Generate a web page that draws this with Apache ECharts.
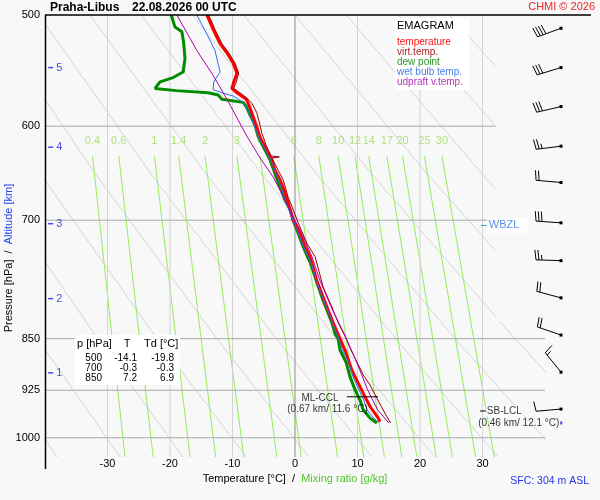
<!DOCTYPE html>
<html>
<head>
<meta charset="utf-8">
<script src="https://cdn.jsdelivr.net/npm/echarts@6/dist/echarts.min.js"></script>
<style>
html, body { margin: 0; padding: 0; background: #f8f8f8; }
#main { width: 600px; height: 500px; }
</style>
</head>
<body>
<div id="main"></div>
<script>
var FONT = 'Liberation Sans, Arial, sans-serif';

// axes
var pTop = 500, pBottom = 1032;
var pressureTicks = [500, 600, 700, 850, 925, 1000];
var pressureLines = [600, 700, 850, 925, 1000];
var isotherms = [-30, -20, -10, 10, 20, 30];
var kmLevels = [1, 2, 3, 4, 5];
var kmPressure = [899, 796, 704, 621, 545];

// mixing ratio lines (g/kg), temperature at 630 hPa and at the bottom
var mixRatios = [0.4, 0.6, 1, 1.4, 2, 3, 4, 6, 8, 10, 12, 14, 17, 20, 25, 30];
var mixTop = [-32.4, -28.2, -22.5, -18.6, -14.4, -9.3, -5.6, -0.2, 3.8, 6.9, 9.6, 11.8, 14.7, 17.2, 20.7, 23.5];
var mixBottom = [-27.2, -22.7, -16.8, -12.7, -8.2, -2.9, 1.0, 6.8, 11.0, 14.3, 17.1, 19.5, 22.6, 25.2, 28.9, 31.9];

// dry adiabats, temperature at these levels
var adiabatLevels = [500, 650, 850, 1032];
var adiabats = [
	[-82.0, -67.1, -50.7, -38.1],
	[-73.8, -58.3, -41.2, -28.0],
	[-65.6, -49.4, -31.6, -17.9],
	[-57.4, -40.6, -22.1, -7.8],
	[-49.2, -31.8, -12.5, 2.2],
	[-41.0, -22.9, -3.0, 12.3],
	[-32.8, -14.1, 6.6, 22.4],
	[-24.6, -5.2, 16.1, 32.5],
	[-16.4, 3.6, 25.6, 42.6],
	[-8.2, 12.4, 35.2, 52.7],
	[0.0, 21.3, 44.7, 62.8],
	[8.2, 30.1, 54.3, 72.9],
	[16.5, 39.0, 63.8, 83.0],
	[24.7, 47.8, 73.4, 93.1]
];

// sounding [p, T]
var temperature = [[500,-14.1],[512,-13.1],[524,-12.0],[532,-10.9],[541,-9.9],[550,-9.3],[558,-9.8],[564,-10.1],[568,-9.3],[574,-7.8],[582,-7.2],[599,-6.2],[611,-5.6],[627,-4.3],[634,-3.7],[645,-3.2],[655,-2.4],[669,-1.6],[680,-1.1],[700,-0.3],[715,0.8],[731,1.6],[743,2.4],[751,2.7],[773,3.5],[794,4.5],[811,5.3],[828,6.1],[850,7.2],[866,8.0],[895,9.1],[914,10.1],[935,11.2],[950,12.0],[968,13.3],[974,13.6]];
var dewPoint = [[500,-19.8],[510,-19.2],[514,-18.1],[524,-17.8],[537,-17.6],[549,-17.9],[554,-19.5],[558,-21.6],[564,-22.4],[566,-19.0],[568,-13.9],[570,-12.3],[574,-11.7],[577,-8.3],[581,-7.8],[589,-7.2],[599,-6.4],[610,-5.9],[624,-4.8],[634,-4.0],[652,-3.0],[663,-2.4],[677,-1.6],[688,-0.8],[700,-0.3],[715,0.5],[731,1.3],[745,2.1],[751,2.5],[773,3.4],[794,4.3],[811,5.1],[828,5.9],[843,6.4],[850,6.9],[866,7.2],[884,8.2],[905,8.8],[924,9.6],[940,10.4],[955,10.9],[968,12.0],[976,13.1]];
var wetBulb = [[500,-15.7],[508,-14.9],[518,-13.9],[530,-12.8],[544,-12.2],[549,-12.0],[558,-13.0],[565,-13.1],[568,-11.7],[571,-9.9],[575,-8.8],[579,-8.0],[589,-7.2],[600,-6.5],[611,-5.8],[634,-3.9],[655,-2.6],[677,-1.6],[700,-0.3],[731,1.4],[751,2.6],[773,3.4],[794,4.4],[828,6.0],[850,7.0],[866,7.6],[884,8.6],[905,9.3],[924,10.2],[940,11.0],[955,11.5],[968,12.6],[975,13.3]];
var virtTemp = [[500,-13.8],[512,-12.8],[524,-11.7],[532,-10.6],[541,-9.6],[550,-9.0],[558,-9.4],[564,-9.8],[568,-8.8],[573,-7.7],[578,-6.9],[587,-6.1],[599,-5.6],[607,-5.3],[621,-4.5],[630,-3.8],[631,-2.5],[632,-3.7],[645,-2.7],[655,-1.9],[674,-1.1],[688,-0.3],[703,0.5],[727,1.9],[743,3.2],[751,3.5],[781,4.5],[807,5.9],[828,6.9],[850,8.2],[863,8.8],[883,9.9],[902,10.9],[917,12.0],[932,12.8],[950,13.8],[966,14.7],[976,15.3]];
var updraft = [[500,-18.9],[530,-15.7],[552,-13.1],[574,-10.9],[594,-9.1],[611,-7.6],[634,-5.4],[652,-3.5],[677,-1.6],[696,-0.3],[711,0.8],[731,2.0],[743,2.7],[773,4.0],[811,6.0],[842,7.8],[884,9.9],[924,11.6],[955,13.2],[976,15.0]];

// wind
var windP = [511, 545, 581, 620, 658, 703, 748, 795, 845, 898, 954];
var windDir = [250, 253, 257, 263, 275, 274, 272, 285, 289, 321, 265];
var windSpeed = [40, 30, 30, 25, 20, 30, 25, 20, 20, 15, 10];

// table
var tableP = [500, 700, 850];
var tableT = [-14.1, -0.3, 7.2];
var tableTd = [-19.8, -0.3, 6.9];

function xy(t, p) { return [t, Math.log(p)]; }
function profile(pairs) {
	return pairs.map(function (d) { return xy(d[1], d[0]); });
}
function plainLine(data, color, width, z) {
	return {
		type: 'line', data: data, symbol: 'none', silent: true, z: z,
		lineStyle: { color: color, width: width }
	};
}
function txt(x, y, s, size, color, align, weight) {
	return {
		type: 'text', z: 20, x: x, y: y, silent: true,
		style: { text: s, fontSize: size, fontFamily: FONT, fontWeight: weight || 'normal', fill: color, align: align || 'left', verticalAlign: 'middle' }
	};
}
function labelPoint(t, p, text, color, extra) {
	var label = { show: true, position: 'inside', formatter: text, color: color, fontSize: 10, fontFamily: FONT };
	for (var k in extra) label[k] = extra[k];
	return { value: xy(t, p), label: label };
}

function renderBarb(params, api) {
	var c = api.coord([api.value(0), api.value(1)]);
	var d = api.value(2) * Math.PI / 180;
	var s = api.value(3);
	var ux = Math.sin(d), uy = -Math.cos(d);
	var tx = c[0] + ux * 25, ty = c[1] + uy * 25;
	var fx = -uy, fy = ux, a = 0.15;
	var gx = fx * Math.cos(a) + ux * Math.sin(a);
	var gy = fy * Math.cos(a) + uy * Math.sin(a);
	var kids = [{ type: 'line', shape: { x1: c[0], y1: c[1], x2: tx, y2: ty }, style: { stroke: '#000', lineWidth: 1 } }];
	var full = Math.floor(s / 10), half = (s % 10) >= 5, pos = 0;
	for (var i = 0; i < full; i++) {
		var bx = tx - ux * pos * 3, by = ty - uy * pos * 3;
		kids.push({ type: 'line', shape: { x1: bx, y1: by, x2: bx + gx * 10, y2: by + gy * 10 }, style: { stroke: '#000', lineWidth: 1 } });
		pos++;
	}
	if (half) {
		if (full === 0) pos = 1;
		var hx = tx - ux * pos * 3, hy = ty - uy * pos * 3;
		kids.push({ type: 'line', shape: { x1: hx, y1: hy, x2: hx + gx * 5, y2: hy + gy * 5 }, style: { stroke: '#000', lineWidth: 1 } });
	}
	kids.push({ type: 'rect', shape: { x: c[0] - 1.5, y: c[1] - 1.5, width: 3, height: 3 }, style: { fill: '#000' } });
	return { type: 'group', children: kids };
}

var series = [];

adiabats.forEach(function (row) {
	series.push(plainLine(row.map(function (t, i) { return xy(t, adiabatLevels[i]); }), '#d4d4d4', 1, 1));
});
mixRatios.forEach(function (w, i) {
	series.push(plainLine([xy(mixTop[i], 630), xy(mixBottom[i], pBottom)], '#92ec5e', 1, 1));
});
series.push({
	type: 'scatter', silent: true, z: 1, symbolSize: 1, itemStyle: { color: 'rgba(0,0,0,0)' },
	data: mixRatios.map(function (w, i) { return xy(mixTop[i], 615).concat([w]); }),
	label: { show: true, position: 'inside', color: '#9edc5c', fontSize: 11, fontFamily: FONT, formatter: function (p) { return p.value[2]; } }
});
isotherms.forEach(function (t) {
	series.push(plainLine([xy(t, pTop), xy(t, pBottom)], '#d4d4d4', 1, 1));
});
series.push(plainLine([xy(0, pTop), xy(0, pBottom)], '#8c8c8c', 1, 1));
pressureLines.forEach(function (p) {
	series.push(plainLine([xy(-40, p), xy(40, p)], '#a8a8a8', 1, 1));
});
series.push({
	type: 'scatter', silent: true, z: 2, symbol: 'rect', symbolSize: [5, 1.5], itemStyle: { color: '#1a1aee' },
	data: kmLevels.map(function (k, i) { return xy(-39.1, kmPressure[i]).concat([k]); }),
	label: { show: true, position: 'right', distance: 3, color: '#1a1aee', fontSize: 11, fontFamily: FONT, formatter: function (p) { return p.value[2]; } }
});

series.push(plainLine(profile(dewPoint), '#008c00', 3, 3));
series.push(plainLine(profile(temperature), '#ff0000', 3, 4));
series.push(plainLine(profile(wetBulb), '#2a6ef0', 1, 5));
series.push(plainLine(profile(virtTemp), '#990000', 1, 5));
series.push(plainLine(profile(updraft), '#b000b0', 1, 5));

// CCL / LCL / WBZL
series.push(plainLine([xy(8.3, 935), xy(13.3, 935)], '#000', 1, 6));
series.push(plainLine([xy(29.6, 957), xy(30.6, 957)], '#000', 1, 6));
series.push({
	type: 'scatter', silent: true, z: 7, symbolSize: 1, itemStyle: { color: 'rgba(0,0,0,0)' }, clip: false,
	data: [
		labelPoint(4.0, 937, 'ML-CCL', '#000'),
		labelPoint(5.2, 954, '(0.67 km/ 11.6 °C)', '#000'),
		labelPoint(33.5, 957, 'SB-LCL', '#000', { backgroundColor: '#fff', padding: [1, 1, 0, 1] }),
		labelPoint(35.8, 976, '(0.46 km/ 12.1 °C)', '#000')
	]
});
series.push({
	type: 'scatter', silent: true, z: 10, symbol: 'rect', symbolSize: [6, 1], itemStyle: { color: '#3377dd' }, clip: false,
	data: [xy(30.2, 706)],
	label: { show: true, position: 'right', distance: 0, formatter: 'WBZL', color: '#3377dd', fontSize: 11, fontFamily: FONT, backgroundColor: '#fff', padding: [2, 9, 2, 2] }
});
series.push({
	type: 'scatter', silent: true, z: 10, symbol: 'rect', symbolSize: [2, 3], itemStyle: { color: '#1a1aee' }, clip: false,
	data: [xy(42.6, 976)]
});
series.push({
	type: 'custom', coordinateSystem: 'cartesian2d', silent: true, z: 10, clip: false,
	renderItem: renderBarb,
	encode: { x: 0, y: 1 },
	data: windP.map(function (p, i) { return [42.56, Math.log(p), windDir[i], windSpeed[i]]; })
});

var graphics = [
	{ type: 'rect', z: 3, silent: true, shape: { x: 495.5, y: 16, width: 52, height: 306 }, style: { fill: '#f8f8f8' } },
	{ type: 'line', z: 20, silent: true, shape: { x1: 45, y1: 15, x2: 591, y2: 15 }, style: { stroke: '#000', lineWidth: 1.5 } },
	{ type: 'line', z: 20, silent: true, shape: { x1: 45.5, y1: 15, x2: 45.5, y2: 469 }, style: { stroke: '#000', lineWidth: 1.5 } },
	txt(50, 8, 'Praha-Libus', 12, '#000', 'left', 'bold'),
	txt(132, 8, '22.08.2026 00 UTC', 12, '#000', 'left', 'bold'),
	txt(595, 7, 'CHMI © 2026', 11, '#ee2222', 'right'),
	txt(589, 481, 'SFC: 304 m ASL', 10.5, '#2233ee', 'right'),
	{ type: 'rect', z: 15, silent: true, shape: { x: 395, y: 18, width: 74, height: 72 }, style: { fill: '#ffffff' } },
	txt(397, 26, 'EMAGRAM', 11, '#000'),
	txt(397, 42, 'temperature', 10, '#ff1111'),
	txt(397, 52, 'virt.temp.', 10, '#aa2222'),
	txt(397, 62, 'dew point', 10, '#229922'),
	txt(397, 72, 'wet bulb temp.', 10, '#4a7fe6'),
	txt(397, 82, 'udpraft v.temp.', 10, '#bb33bb'),
	{ type: 'rect', z: 15, silent: true, shape: { x: 75, y: 335, width: 105, height: 50 }, style: { fill: '#ffffff' } },
	txt(77, 344, 'p [hPa]', 11, '#000'),
	txt(127, 344, 'T', 11, '#000', 'center'),
	txt(144, 344, 'Td [°C]', 11, '#000')
];
tableP.forEach(function (p, i) {
	var y = 358 + i * 10;
	graphics.push(txt(102, y, String(p), 10, '#000', 'right'));
	graphics.push(txt(137, y, tableT[i].toFixed(1), 10, '#000', 'right'));
	graphics.push(txt(174, y, tableTd[i].toFixed(1), 10, '#000', 'right'));
});

var chart = echarts.init(document.getElementById('main'));
chart.setOption({
	backgroundColor: '#f8f8f8',
	animation: false,
	textStyle: { fontFamily: FONT },
	grid: { left: 45, right: 55, top: 15, bottom: 43, containLabel: false, outerBoundsMode: 'none' },
	xAxis: {
		type: 'value', min: -40, max: 40, interval: 10,
		axisLine: { show: false }, axisTick: { show: false }, splitLine: { show: false },
		axisLabel: { showMinLabel: false, showMaxLabel: false, margin: 1, color: '#000', fontSize: 11 },
		name: '{t|Temperature [°C]  /  }{m|Mixing ratio [g/kg]}',
		nameLocation: 'middle', nameGap: 16, nameMoveOverlap: false,
		nameTextStyle: { rich: { t: { color: '#000', fontSize: 11, fontFamily: FONT }, m: { color: '#4fc82a', fontSize: 11, fontFamily: FONT } } }
	},
	yAxis: {
		type: 'value', inverse: true, min: Math.log(pTop), max: Math.log(pBottom),
		axisLine: { show: false }, axisTick: { show: false }, splitLine: { show: false },
		axisLabel: {
			customValues: pressureTicks.map(Math.log),
			formatter: function (v) { return Math.round(Math.exp(v)); },
			color: '#000', fontSize: 11, margin: 5
		},
		name: '{p|Pressure [hPa]  /  }{a|Altitude [km]}',
		nameLocation: 'middle', nameGap: 31, nameMoveOverlap: false,
		nameTextStyle: { rich: { p: { color: '#000', fontSize: 11, fontFamily: FONT }, a: { color: '#2244ee', fontSize: 11, fontFamily: FONT, padding: [0, 44, 0, 0] } } }
	},
	graphic: graphics,
	series: series
});
</script>
</body>
</html>
